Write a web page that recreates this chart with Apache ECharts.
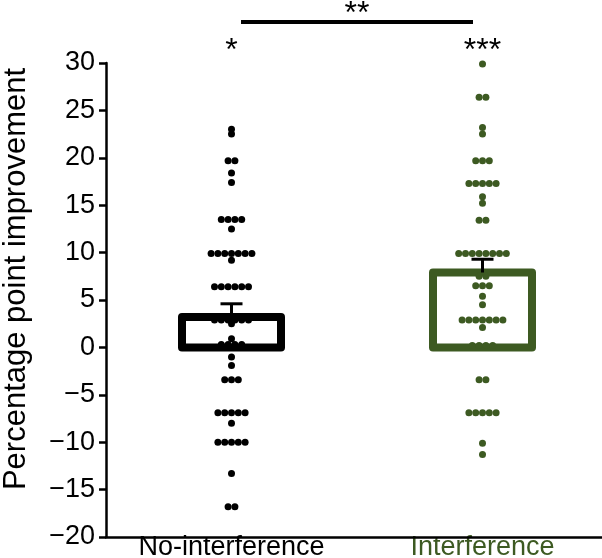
<!DOCTYPE html>
<html><head><meta charset="utf-8">
<script src="https://cdn.jsdelivr.net/npm/echarts@6/dist/echarts.min.js"></script>
<style>html,body{margin:0;padding:0;background:#fff}#c{width:602px;height:558px}</style>
</head><body><div id="c"></div>
<script>
// ---- data ----
const categories = ['No-interference', 'Interference'];
const barMeans = [3.2, 7.9];
const errorTops = [4.6, 9.3];
const groupStars = ['*', '***'];
const comparisonStars = '**';
const yTitle = 'Percentage point improvement';
const yMin = -20, yMax = 30, yInterval = 5;
const noInterferenceDots = [23.0, 22.5, 19.7, 19.7, 18.4, 17.4, 13.5, 13.5, 13.5, 13.5, 12.5,
  9.9, 9.9, 9.9, 9.9, 9.9, 9.9, 9.9, 9.2, 6.4, 6.4, 6.4, 6.4, 6.4, 6.4,
  2.9, 2.9, 2.9, 2.9, 2.9, 2.9, 2.5, 0.9, 0.3, 0.3, 0.3, 0.3, -1.0, -1.9,
  -3.4, -3.4, -3.4, -6.9, -6.9, -6.9, -6.9, -6.9, -8.0,
  -10.0, -10.0, -10.0, -10.0, -10.0, -13.3, -16.8, -16.8];
const interferenceDots = [29.9, 26.4, 26.4, 23.2, 22.5, 19.7, 19.7, 19.7,
  17.3, 17.3, 17.3, 17.3, 17.3, 15.9, 15.2, 13.4, 13.4,
  9.9, 9.9, 9.9, 9.9, 9.9, 9.9, 9.9, 9.9, 7.5, 7.5, 6.5, 6.5, 6.5, 5.4, 4.5,
  2.9, 2.9, 2.9, 2.9, 2.9, 2.9, 2.9, 2.1, 0.2, 0.2, 0.2, 0.2,
  -3.4, -3.4, -6.9, -6.9, -6.9, -6.9, -6.9, -10.1, -11.3];

// ---- styles ----
const GREEN = '#3d5a22';
const colors = ['#000000', GREEN];
const FONT = '"Liberation Sans", Arial, Helvetica, sans-serif';
const DOT_SPACING = 6.8;
const GRID_TOP = 63;

// build beeswarm rows (offset index computed from equal values)
function swarm(values, cat) {
  const counts = {};
  values.forEach(v => { counts[v] = (counts[v] || 0) + 1; });
  const seen = {};
  return values.map(v => {
    const k = seen[v] || 0; seen[v] = k + 1;
    return [cat, v, k - (counts[v] - 1) / 2];
  });
}
const dotData = swarm(noInterferenceDots, 0).concat(swarm(interferenceDots, 1));

const chart = echarts.init(document.getElementById('c'), null, {renderer: 'canvas'});
chart.setOption({
  animation: false,
  backgroundColor: '#fff',
  grid: {left: 106, right: -6, top: GRID_TOP, bottom: 21, containLabel: false, outerBoundsMode: 'none'},
  graphic: [{
    type: 'text', left: 1, top: 'middle', rotation: Math.PI / 2,
    style: {text: yTitle, fontSize: 31, fontFamily: FONT, fill: '#000'}
  }],
  xAxis: [{
    type: 'category', data: categories, position: 'bottom',
    axisLine: {show: false}, axisTick: {show: false},
    axisLabel: {fontSize: 27, fontFamily: FONT, margin: -3, interval: 0, hideOverlap: false,
      color: (v, i) => colors[i]}
  }, {
    type: 'category', data: categories, position: 'bottom', z: 3,
    axisLine: {show: true, onZero: true, lineStyle: {color: '#000', width: 2.5}},
    axisTick: {show: false}, axisLabel: {show: false}
  }],
  yAxis: {
    type: 'value', min: yMin, max: yMax, interval: yInterval,
    axisLine: {show: true, lineStyle: {color: '#000', width: 2.5}},
    axisTick: {show: true, length: 7, lineStyle: {color: '#000', width: 2.5}},
    axisLabel: {fontSize: 27, fontFamily: FONT, color: '#000', margin: 11,
      formatter: v => v < 0 ? '\u2212' + Math.abs(v) : String(v)},
    splitLine: {show: false}
  },
  series: [{
    type: 'custom', name: 'bars', z: 2,
    data: barMeans.map((m, i) => [i, m, errorTops[i]]),
    renderItem: (params, api) => {
      const i = api.value(0);
      const top = api.coord([i, api.value(1)]);
      const base = api.coord([i, 0]);
      const err = api.coord([i, api.value(2)]);
      const w = 99;
      return {type: 'group', children: [
        {type: 'rect', shape: {x: top[0] - w / 2, y: top[1], width: w, height: base[1] - top[1]},
          style: {fill: 'none', stroke: colors[i], lineWidth: 8, lineJoin: 'round'}},
        {type: 'line', shape: {x1: top[0], y1: top[1], x2: err[0], y2: err[1]},
          style: {stroke: '#000', lineWidth: 3}},
        {type: 'line', shape: {x1: err[0] - 11, y1: err[1], x2: err[0] + 11, y2: err[1]},
          style: {stroke: '#000', lineWidth: 3}}
      ]};
    }
  }, {
    type: 'custom', name: 'dots', z: 4,
    data: dotData,
    renderItem: (params, api) => {
      const i = api.value(0);
      const p = api.coord([i, api.value(1)]);
      return {type: 'circle', shape: {cx: p[0] + api.value(2) * DOT_SPACING, cy: p[1], r: 3.5},
        style: {fill: colors[i]}};
    }
  }, {
    type: 'custom', name: 'significance', z: 5, clip: false,
    data: groupStars.map((s, i) => [i, yMax]),
    renderItem: (params, api) => {
      const i = api.value(0);
      const p = api.coord([i, yMax]);
      const children = [{type: 'text', x: p[0], y: GRID_TOP - 28,
        style: {text: groupStars[i], fontSize: 32, fontFamily: FONT, fill: '#000',
          align: 'center', verticalAlign: 'top'}}];
      if (i === 0) {
        const q = api.coord([1, yMax]);
        children.push({type: 'line', shape: {x1: p[0] + 9.5, y1: GRID_TOP - 41, x2: q[0] - 9.5, y2: GRID_TOP - 41},
          style: {stroke: '#000', lineWidth: 4}});
        children.push({type: 'text', x: (p[0] + q[0]) / 2, y: GRID_TOP - 65,
          style: {text: comparisonStars, fontSize: 32, fontFamily: FONT, fill: '#000',
            align: 'center', verticalAlign: 'top'}});
      }
      return {type: 'group', children};
    }
  }]
});
</script></body></html>
